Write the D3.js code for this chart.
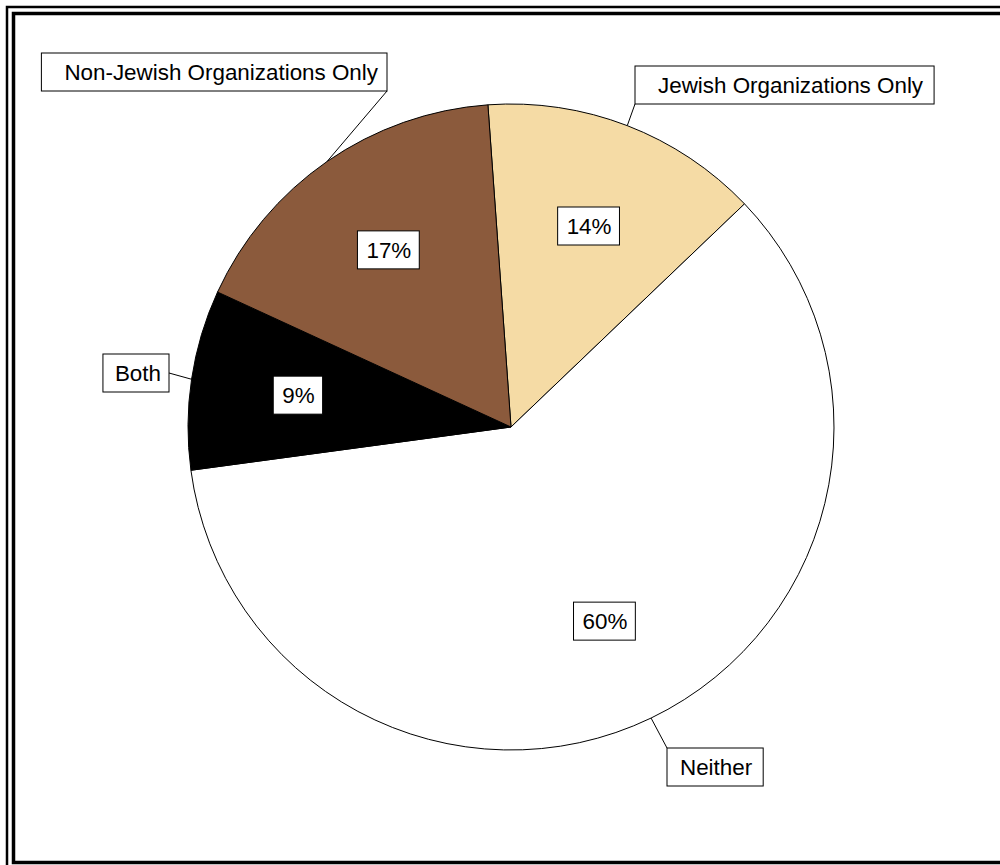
<!DOCTYPE html>
<html>
<head>
<meta charset="utf-8">
<script src="https://cdn.jsdelivr.net/npm/d3@7"></script>
<style>
  html, body { margin: 0; padding: 0; background: #fff; }
  svg { display: block; }
  text { font-family: "Liberation Sans", Arial, sans-serif; }
</style>
</head>
<body>
<svg id="chart" width="1000" height="865"></svg>
<script>
// Slices, clockwise from just left of 12 o'clock
const categories = ["Jewish Organizations Only", "Neither", "Both", "Non-Jewish Organizations Only"];
const percents   = [14, 60, 9, 17];
const sliceColors = ["#F5DBA5", "#FFFFFF", "#000000", "#8B5A3C"];

const W = 1000, H = 865;
const cx = 511, cy = 427, R = 323;
const fontSize = 22.4;

const svg = d3.select("#chart");

// double frame
svg.append("rect").attr("x", 7).attr("y", 7).attr("width", W + 20).attr("height", H + 20)
  .attr("fill", "none").attr("stroke", "#000").attr("stroke-width", 2.5);
svg.append("rect").attr("x", 13.5).attr("y", 13.5).attr("width", W + 20).attr("height", 849)
  .attr("fill", "none").attr("stroke", "#000").attr("stroke-width", 3.5);

const data = categories.map((c, i) => ({ cat: c, pct: percents[i], color: sliceColors[i] }));

const startDeg = -4.1;
const pie = d3.pie().sort(null).value(d => d.pct)
  .startAngle(startDeg * Math.PI / 180)
  .endAngle((startDeg + 360) * Math.PI / 180);
const arcs = pie(data);

const arc = d3.arc().innerRadius(0).outerRadius(R);
const labelArc = d3.arc().innerRadius(R * 0.667).outerRadius(R * 0.667);

const g = svg.append("g").attr("transform", `translate(${cx},${cy})`);

g.selectAll("path.slice").data(arcs).join("path")
  .attr("class", "slice")
  .attr("d", arc)
  .attr("fill", d => d.data.color)
  .attr("stroke", "#000")
  .attr("stroke-width", 1);

// boxed text helper: (ax, ay) picks which point of the box sits at (x, y)
function boxedText(parent, str, x, y, ax, ay, padL, padR, h) {
  const grp = parent.append("g");
  const rect = grp.append("rect");
  const t = grp.append("text").text(str)
    .attr("font-size", fontSize).attr("fill", "#000");
  const tw = t.node().getComputedTextLength();
  const w = tw + padL + padR;
  const bx = x - ax * w, by = y - ay * h;
  rect.attr("x", bx).attr("y", by).attr("width", w).attr("height", h)
    .attr("fill", "#fff").attr("stroke", "#000").attr("stroke-width", 1);
  t.attr("x", bx + padL).attr("y", by + h / 2).attr("dy", "0.36em");
  return grp;
}

// percentage labels at two thirds of the radius
arcs.forEach(a => {
  const [lx, ly] = labelArc.centroid(a);
  boxedText(g, a.data.pct + "%", lx, ly, 0.5, 0.5, 9, 8, 38);
});

// callout anchors, relative to the pie centre, and which box corner meets the leader
const callouts = {
  "Jewish Organizations Only":      { dx: 124,  dy: -323, ax: 0, ay: 1,   padL: 23, padR: 11 },
  "Neither":                        { dx: 156,  dy: 321,  ax: 0, ay: 0,   padL: 13, padR: 11 },
  "Both":                           { dx: -342, dy: -54,  ax: 1, ay: 0.5, padL: 12, padR: 8 },
  "Non-Jewish Organizations Only":  { dx: -124, dy: -336, ax: 1, ay: 1,   padL: 23, padR: 9 }
};

arcs.forEach(a => {
  const mid = (a.startAngle + a.endAngle) / 2;
  const ex = R * Math.sin(mid), ey = -R * Math.cos(mid);
  const c = callouts[a.data.cat];
  g.append("line")
    .attr("x1", ex).attr("y1", ey).attr("x2", c.dx).attr("y2", c.dy)
    .attr("stroke", "#000").attr("stroke-width", 1);
  boxedText(g, a.data.cat, c.dx, c.dy, c.ax, c.ay, c.padL, c.padR, 38);
});
</script>
</body>
</html>
